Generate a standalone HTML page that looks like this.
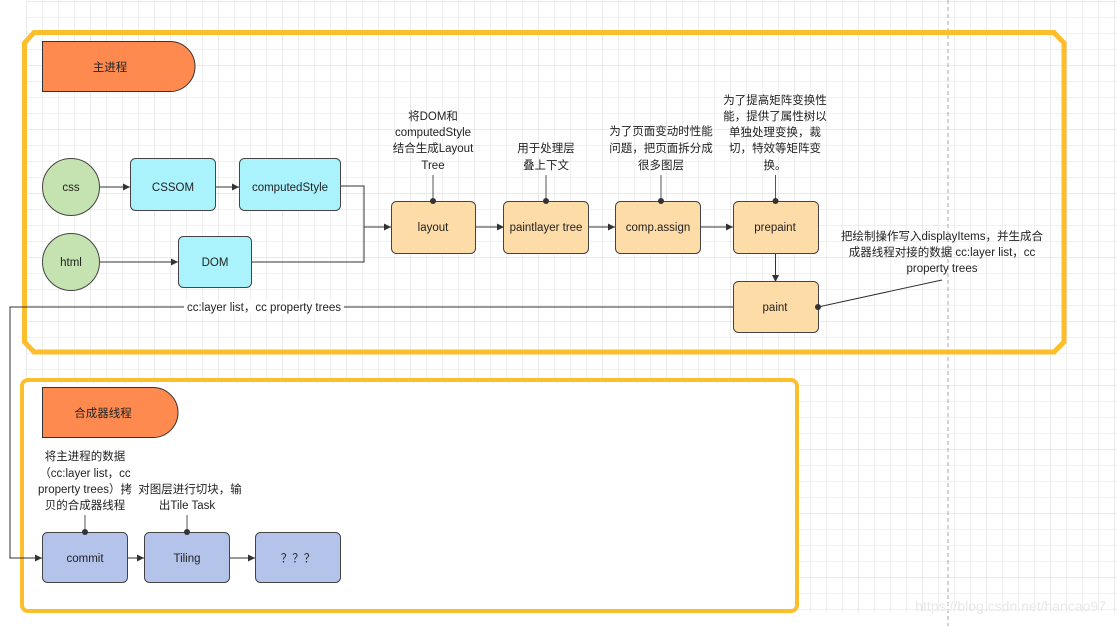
<!DOCTYPE html>
<html><head><meta charset="utf-8"><style>
html,body{margin:0;padding:0;background:#fff;}
svg{display:block;}
text{font-family:"Liberation Sans","Noto Sans CJK SC",sans-serif;font-size:11.5px;fill:#222;}
</style></head><body>
<svg width="1117" height="626" viewBox="0 0 1117 626" xmlns="http://www.w3.org/2000/svg">
<defs>
<pattern id="g" x="26.5" y="1.5" width="16" height="16" patternUnits="userSpaceOnUse">
<path d="M0 0H16M0 0V16" stroke="#e2e2e2" stroke-width="1" fill="none"/>
</pattern>
<pattern id="G" x="26.5" y="1.5" width="64" height="64" patternUnits="userSpaceOnUse">
<path d="M0 0H64M0 0V64" stroke="#d6d6d6" stroke-width="1" fill="none"/>
</pattern>
<marker id="a" markerWidth="8" markerHeight="8" refX="7" refY="4" orient="auto" markerUnits="userSpaceOnUse">
<path d="M0 0.5L7 4L0 7.5z" fill="#333"/>
</marker>
</defs>
<rect x="26" y="1" width="1091" height="611" fill="url(#g)"/>
<rect x="26" y="1" width="1091" height="611" fill="url(#G)"/>
<line x1="948" y1="0" x2="948" y2="626" stroke="#aaa" stroke-dasharray="4,3"/>

<path d="M34 32.5H1054L1064 43V342L1054 352H34L24.5 342V43Z" fill="none" stroke="#fdbe2c" stroke-width="5"/>
<rect x="22" y="380" width="775" height="231" rx="6" fill="#fff" stroke="#fdbe2c" stroke-width="4"/>

<path d="M42.5 41.5H170A25 25 0 0 1 170 91.5H42.5Z" fill="#fe8a50" stroke="#333"/>
<text x="110" y="71" text-anchor="middle">主进程</text>
<path d="M42.5 387.5H153A25 25 0 0 1 153 437.5H42.5Z" fill="#fe8a50" stroke="#333"/>
<text x="103" y="417" text-anchor="middle">合成器线程</text>

<g stroke="#333" fill="none">
<line x1="100" y1="187" x2="130" y2="187" marker-end="url(#a)"/>
<line x1="216" y1="187" x2="239" y2="187" marker-end="url(#a)"/>
<line x1="100" y1="262" x2="178" y2="262" marker-end="url(#a)"/>
<path d="M340 186H364V262H251"/>
<line x1="364" y1="227" x2="391" y2="227" marker-end="url(#a)"/>
<line x1="475" y1="227" x2="504" y2="227" marker-end="url(#a)"/>
<line x1="588" y1="227" x2="615" y2="227" marker-end="url(#a)"/>
<line x1="700" y1="227" x2="733" y2="227" marker-end="url(#a)"/>
<line x1="775.5" y1="253" x2="775.5" y2="282" marker-end="url(#a)"/>
<path d="M733 307H10V558H42" marker-end="url(#a)"/>
<line x1="127" y1="558" x2="144" y2="558" marker-end="url(#a)"/>
<line x1="229" y1="558" x2="255" y2="558" marker-end="url(#a)"/>
<line x1="818" y1="307" x2="942" y2="280"/>
</g>
<g stroke="#555" fill="none">
<line x1="433" y1="175" x2="433" y2="201"/>
<line x1="546" y1="175" x2="546" y2="201"/>
<line x1="661" y1="175" x2="661" y2="201"/>
<line x1="775.5" y1="175" x2="775.5" y2="201"/>
<line x1="85" y1="515" x2="85" y2="532"/>
<line x1="187" y1="515" x2="187" y2="532"/>
</g>
<rect x="184" y="300" width="160" height="14" fill="#fff"/>
<text x="264" y="311" text-anchor="middle">cc:layer list，cc  property trees</text>

<g stroke="#444">
<circle cx="71" cy="187" r="28.5" fill="#c5e3b1"/>
<circle cx="71" cy="262" r="28.5" fill="#c5e3b1"/>
<rect x="130.5" y="158.5" width="85" height="52" rx="5" fill="#aaf3fd"/>
<rect x="239.5" y="158.5" width="101" height="52" rx="5" fill="#aaf3fd"/>
<rect x="178.5" y="236.5" width="73" height="51" rx="5" fill="#aaf3fd"/>
<rect x="391.5" y="201.5" width="84" height="52" rx="5" fill="#fedca8"/>
<rect x="503.5" y="201.5" width="85" height="52" rx="5" fill="#fedca8"/>
<rect x="615.5" y="201.5" width="85" height="52" rx="5" fill="#fedca8"/>
<rect x="733.5" y="201.5" width="85" height="52" rx="5" fill="#fedca8"/>
<rect x="733.5" y="281.5" width="85" height="51" rx="5" fill="#fedca8"/>
<rect x="42.5" y="532.5" width="85" height="50" rx="5" fill="#b3c3e9"/>
<rect x="144.5" y="532.5" width="85" height="50" rx="5" fill="#b3c3e9"/>
<rect x="255.5" y="532.5" width="85" height="50" rx="5" fill="#b3c3e9"/>
</g>
<g fill="#333">
<circle cx="433" cy="201" r="3"/><circle cx="546" cy="201" r="3"/><circle cx="661" cy="201" r="3"/><circle cx="775.5" cy="201" r="3"/>
<circle cx="818" cy="307" r="3"/><circle cx="85" cy="532" r="3"/><circle cx="187" cy="532" r="3"/>
</g>

<g text-anchor="middle">
<text x="71" y="191">css</text>
<text x="71" y="266">html</text>
<text x="173" y="191">CSSOM</text>
<text x="290" y="191">computedStyle</text>
<text x="215" y="266">DOM</text>
<text x="433" y="231">layout</text>
<text x="546" y="231">paintlayer tree</text>
<text x="658" y="231">comp.assign</text>
<text x="775" y="231">prepaint</text>
<text x="775" y="311">paint</text>
<text x="85" y="562">commit</text>
<text x="187" y="562">Tiling</text>
<text x="298" y="562">？？？</text>

<text x="433" y="120">将DOM和</text>
<text x="433" y="136">computedStyle</text>
<text x="433" y="152">结合生成Layout</text>
<text x="433" y="169">Tree</text>
<text x="546" y="152">用于处理层</text>
<text x="546" y="169">叠上下文</text>
<text x="661" y="135">为了页面变动时性能</text>
<text x="661" y="152">问题，把页面拆分成</text>
<text x="661" y="169">很多图层</text>
<text x="775" y="104">为了提高矩阵变换性</text>
<text x="775" y="120">能，提供了属性树以</text>
<text x="775" y="136">单独处理变换，裁</text>
<text x="775" y="152">切，特效等矩阵变</text>
<text x="775" y="169">换。</text>
<text x="942" y="240">把绘制操作写入displayItems，并生成合</text>
<text x="942" y="256">成器线程对接的数据 cc:layer list，cc</text>
<text x="942" y="272">property trees</text>
<text x="85" y="460">将主进程的数据</text>
<text x="85" y="477">（cc:layer list，cc</text>
<text x="85" y="493">property trees）拷</text>
<text x="85" y="509">贝的合成器线程</text>
<text x="190" y="493">对图层进行切块，输</text>
<text x="187" y="509">出Tile Task</text>
</g>
<text x="1106" y="611" text-anchor="end" style="font-size:14px;fill:#e8e8e8">https://blog.csdn.net/hancao97</text>
</svg>
</body></html>
